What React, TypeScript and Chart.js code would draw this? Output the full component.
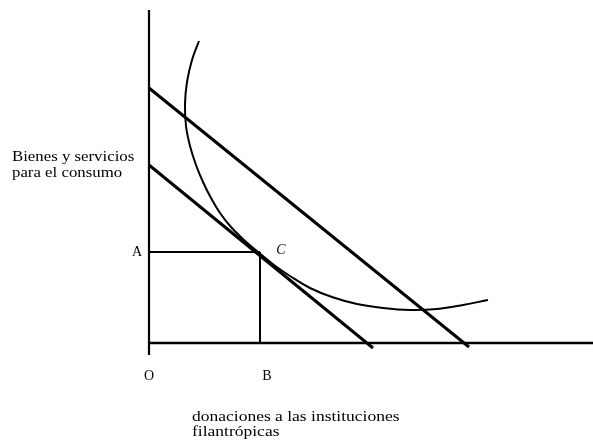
import React, { useEffect, useRef } from "react";
import { Chart, registerables } from "chart.js";

Chart.register(...registerables);

// Axis extents (data units; origin O at 0,0)
const yAxisX = [0, 0];
const yAxisY = [33.3, -1.2];
const xAxisX = [0, 44.4];
const xAxisY = [0, 0];

// Budget lines
const budgetLowX = [0, 22.4];
const budgetLowY = [17.8, -0.5];
const budgetHighX = [0, 32.0];
const budgetHighY = [25.5, -0.4];

// Point C (optimum)
const pointC = { x: 11.1, y: 9.1 };

// Indifference curve
const curveX = [5.0, 4.3, 3.8, 3.6, 3.7, 4.1, 4.7, 5.4, 6.2, 7.1, 8.2, 9.5, 10.9, 12.5, 14.1, 16.1, 18.3, 20.8, 23.4, 26.1, 28.8, 31.4, 33.9];
const curveY = [30.2, 28.3, 26.1, 23.9, 21.7, 19.7, 17.8, 16.1, 14.5, 13.0, 11.6, 10.3, 9.1, 7.8, 6.7, 5.5, 4.6, 3.9, 3.5, 3.3, 3.4, 3.8, 4.3];

// Texts
const yTitleLines = ["Bienes y servicios", "para el consumo"];
const xTitleLines = ["donaciones a las instituciones", "filantrópicas"];
const pointLabels = ["A", "B", "C", "O"];

const pts = (xs: number[], ys: number[]) => xs.map((x, i) => ({ x, y: ys[i] }));

export default function App() {
  const ref = useRef<HTMLCanvasElement | null>(null);

  useEffect(() => {
    if (!ref.current) return;
    document.body.style.margin = "0";
    const line = (data: any[], width: number, tension = 0) => ({
      data,
      showLine: true,
      borderColor: "#000",
      backgroundColor: "#000",
      borderWidth: width,
      pointRadius: 0,
      tension,
      fill: false,
    });

    const textPlugin = {
      id: "texts",
      afterDatasetsDraw(chart: any) {
        const ctx = chart.ctx;
        const xs = chart.scales.x;
        const ys = chart.scales.y;
        ctx.save();
        ctx.fillStyle = "#000";
        ctx.textBaseline = "alphabetic";
        const drawStretched = (t: string, px: number, py: number, font: string, sx: number) => {
          ctx.save();
          ctx.font = font;
          ctx.translate(px, py);
          ctx.scale(sx, 1);
          ctx.textAlign = "left";
          ctx.fillText(t, 0, 0);
          ctx.restore();
        };
        const body = '14px "Liberation Serif"';
        const ox = xs.getPixelForValue(0);
        const oy = ys.getPixelForValue(0);
        // y title
        drawStretched(yTitleLines[0], 12, 161, body, 1.2);
        drawStretched(yTitleLines[1], 12, 177, body, 1.2);
        // x title
        drawStretched(xTitleLines[0], 192, 421, body, 1.25);
        drawStretched(xTitleLines[1], 192, 436, body, 1.25);
        // point labels
        const lab = '14px "Liberation Serif"';
        const cx = xs.getPixelForValue(pointC.x);
        const cy = ys.getPixelForValue(pointC.y);
        ctx.font = lab;
        ctx.textAlign = "center";
        ctx.fillText(pointLabels[0], ox - 12, cy + 4);
        ctx.fillText(pointLabels[1], cx + 7, oy + 37);
        ctx.fillText(pointLabels[3], ox, oy + 37);
        ctx.font = 'italic 14px "Liberation Serif"';
        ctx.fillText(pointLabels[2], cx + 21, cy + 2);
        ctx.restore();
      },
    };

    const chart = new Chart(ref.current, {
      type: "scatter",
      data: {
        datasets: [
          line(pts(yAxisX, yAxisY), 2.2),
          line(pts(xAxisX, xAxisY), 2.4),
          line(pts(budgetLowX, budgetLowY), 3),
          line(pts(budgetHighX, budgetHighY), 3),
          line([{ x: 0, y: pointC.y }, { x: pointC.x, y: pointC.y }], 2),
          line([{ x: pointC.x, y: pointC.y }, { x: pointC.x, y: 0 }], 2),
          line(pts(curveX, curveY), 2, 0.4),
        ],
      },
      options: {
        animation: false,
        responsive: false,
        maintainAspectRatio: false,
        layout: { padding: 0 },
        plugins: { legend: { display: false }, tooltip: { enabled: false } },
        scales: {
          x: { type: "linear", min: -14.9, max: 44.4, display: false },
          y: { type: "linear", min: -10.1, max: 34.3, display: false },
        },
      },
      plugins: [textPlugin],
    });
    return () => chart.destroy();
  }, []);

  return (
    <div style={{ position: "absolute", left: 0, top: 0, width: 593, height: 444, background: "#fff" }}>
      <canvas ref={ref} width={593} height={444} style={{ display: "block" }} />
    </div>
  );
}
